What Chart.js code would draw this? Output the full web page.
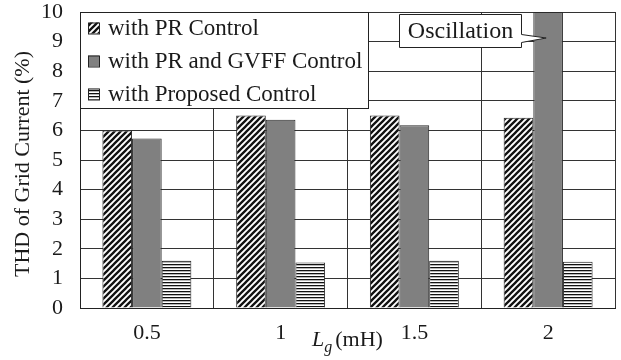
<!DOCTYPE html>
<html>
<head>
<meta charset="utf-8">
<script src="https://cdn.jsdelivr.net/npm/chart.js@4/dist/chart.umd.min.js"></script>
<style>
  html, body { margin: 0; padding: 0; background: #fff; }
  #wrap { width: 621px; height: 360px; position: relative; }
</style>
</head>
<body>
<div id="wrap"><canvas id="thd"></canvas></div>
<script>
// grid inductance values (mH)
const categories = ['0.5', '1', '1.5', '2'];
const seriesNames = ['with PR Control', 'with PR and GVFF Control', 'with Proposed Control'];
// THD of grid current (%)
const prControl = [6.0, 6.5, 6.5, 6.43];
const prGvffControl = [5.73, 6.36, 6.17, 10];
const proposedControl = [1.6, 1.54, 1.6, 1.56];
const yTicks = [0, 1, 2, 3, 4, 5, 6, 7, 8, 9, 10];
const calloutText = 'Oscillation';

const SERIF = '"Liberation Serif", "Times New Roman", serif';
const INK = '#1a1a1a';

function makeTile(w, h, draw) {
  const c = document.createElement('canvas');
  c.width = w; c.height = h;
  const g = c.getContext('2d');
  g.fillStyle = '#fff';
  g.fillRect(0, 0, w, h);
  draw(g);
  return c;
}

const probe = document.createElement('canvas').getContext('2d');

// "////" hatching
const diagTile = makeTile(6, 6, g => {
  g.strokeStyle = '#111';
  g.lineWidth = 2.3;
  g.beginPath();
  g.moveTo(-3, 3); g.lineTo(3, -3);
  g.moveTo(0, 6); g.lineTo(6, 0);
  g.moveTo(3, 9); g.lineTo(9, 3);
  g.stroke();
});
// horizontal stripes
const stripeTile = makeTile(4, 3, g => {
  g.fillStyle = '#111';
  g.fillRect(0, 0, 4, 1.3);
});
const diagFill = probe.createPattern(diagTile, 'repeat');
const stripeFill = probe.createPattern(stripeTile, 'repeat');
const grayFill = '#808080';
const fills = [diagFill, grayFill, stripeFill];

const seriesValues = [prControl, prGvffControl, proposedControl];

// legend box and the callout, drawn over the plot
const overlay = {
  id: 'overlay',
  afterDraw(chart) {
    const ctx = chart.ctx;
    const area = chart.chartArea;
    ctx.save();

    // legend
    const lx = area.left, ly = area.top, lw = 288, lh = 96;
    ctx.fillStyle = '#fff';
    ctx.fillRect(lx, ly, lw, lh);
    ctx.strokeStyle = '#222';
    ctx.lineWidth = 1;
    ctx.strokeRect(lx + 0.5, ly + 0.5, lw, lh);
    ctx.font = '23px ' + SERIF;
    ctx.textBaseline = 'middle';
    ctx.textAlign = 'left';
    seriesNames.forEach((name, i) => {
      const cy = ly + 16 + i * 33;
      ctx.fillStyle = fills[i];
      ctx.fillRect(lx + 8, cy - 5.5, 11, 11);
      ctx.strokeStyle = '#222';
      ctx.strokeRect(lx + 8.5, cy - 5, 11, 11);
      ctx.fillStyle = INK;
      ctx.fillText(name, lx + 28, cy + 1);
    });

    // callout pointing at the clipped bar
    const bar = chart.getDatasetMeta(1).data[3];
    const tipX = bar.x - 2, tipY = bar.y + 26;
    const bx = 399.5, by = 14.5, bw = 122, bh = 33;
    ctx.beginPath();
    ctx.moveTo(bx, by);
    ctx.lineTo(bx + bw, by);
    ctx.lineTo(bx + bw, by + 20);
    ctx.lineTo(tipX, tipY);
    ctx.lineTo(bx + bw, by + 28);
    ctx.lineTo(bx + bw, by + bh);
    ctx.lineTo(bx, by + bh);
    ctx.closePath();
    ctx.fillStyle = '#fff';
    ctx.fill();
    ctx.strokeStyle = '#222';
    ctx.stroke();
    ctx.fillStyle = INK;
    ctx.font = '24px ' + SERIF;
    ctx.textAlign = 'center';
    ctx.fillText(calloutText, bx + bw / 2, by + bh / 2 + 1);

    // y axis title
    ctx.save();
    ctx.translate(23, 164);
    ctx.rotate(-Math.PI / 2);
    ctx.font = '22px ' + SERIF;
    ctx.textAlign = 'center';
    ctx.fillText('THD of Grid Current (%)', 0, 0);
    ctx.restore();

    // x axis title: L_g (mH)
    ctx.textAlign = 'left';
    ctx.textBaseline = 'alphabetic';
    let x = 312;
    ctx.font = 'italic 22px ' + SERIF;
    ctx.fillText('L', x, 346);
    x += ctx.measureText('L').width;
    ctx.font = 'italic 16px ' + SERIF;
    ctx.fillText('g', x, 352);
    x += ctx.measureText('g').width + 3;
    ctx.font = '22px ' + SERIF;
    ctx.fillText('(mH)', x, 346);

    ctx.restore();
  }
};

new Chart(document.getElementById('thd'), {
  type: 'bar',
  data: {
    labels: categories,
    datasets: seriesNames.map((name, i) => ({
      label: name,
      data: seriesValues[i],
      backgroundColor: fills[i],
      borderColor: '#2a2a2a',
      borderWidth: 1,
      categoryPercentage: 0.665,
      barPercentage: 1.0
    }))
  },
  options: {
    responsive: true,
    maintainAspectRatio: false,
    animation: false,
    layout: { padding: { left: 0, right: 6, top: 12, bottom: 0 } },
    plugins: { legend: { display: false }, tooltip: { enabled: false } },
    scales: {
      x: {
        grid: { color: '#333', lineWidth: 1, drawTicks: false, offset: true },
        border: { color: '#222', width: 1 },
        ticks: { font: { family: SERIF, size: 22 }, color: INK, padding: 12 },
        afterFit(scale) {
          scale.height = 52;
          scale.paddingLeft = 0;
          scale.paddingRight = 0;
        }
      },
      y: {
        min: 0,
        max: 10,
        afterBuildTicks(scale) { scale.ticks = yTicks.map(v => ({ value: v })); },
        grid: { color: '#333', lineWidth: 1, drawTicks: false },
        border: { color: '#222', width: 1 },
        ticks: { font: { family: SERIF, size: 22 }, color: INK, padding: 17, autoSkip: false },
        afterFit(scale) {
          scale.width = 80;
          scale.paddingTop = 0;
          scale.paddingBottom = 0;
        }
      }
    }
  },
  plugins: [overlay]
});
</script>
</body>
</html>
